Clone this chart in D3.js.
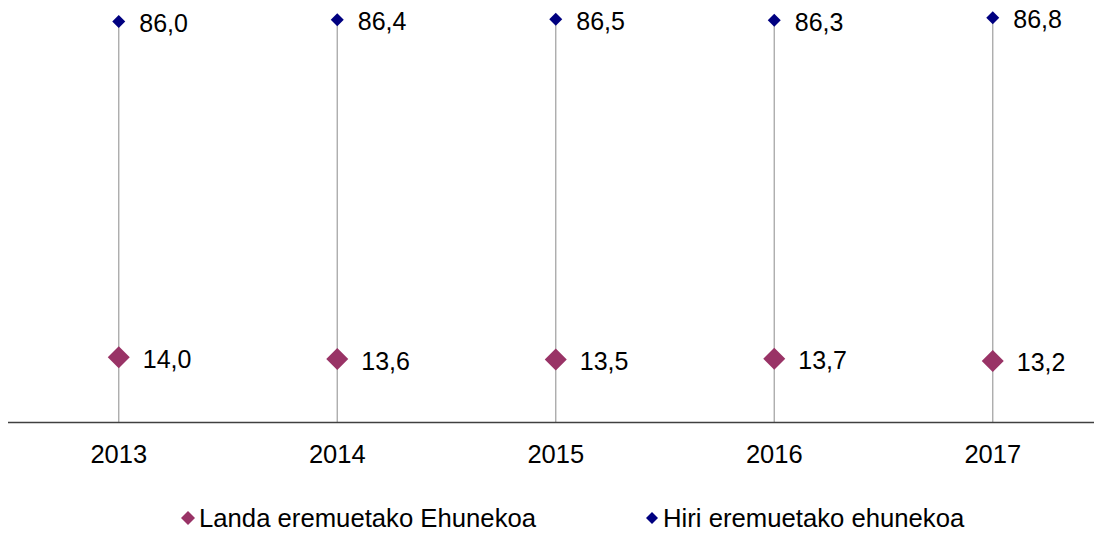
<!DOCTYPE html>
<html>
<head>
<meta charset="utf-8">
<script src="https://cdn.jsdelivr.net/npm/d3@7"></script>
<style>
  html, body { margin: 0; padding: 0; background: #fff; }
  svg { display: block; font-family: "Liberation Sans", Arial, sans-serif; }
</style>
</head>
<body>
<svg id="chart" width="1094" height="533"></svg>
<script>
const YEARS = ["2013", "2014", "2015", "2016", "2017"];
const RURAL = [14.0, 13.6, 13.5, 13.7, 13.2];
const URBAN = [86.0, 86.4, 86.5, 86.3, 86.8];
const SERIES_NAMES = ["Landa eremuetako Ehunekoa", "Hiri eremuetako ehunekoa"];

const RURAL_COLOR = "#993366";
const URBAN_COLOR = "#000080";

const svg = d3.select("#chart");
const width = 1094;

const x = d3.scaleBand().domain(YEARS).range([9.5, 1102]);
const y = d3.scaleLinear().domain([0, 90]).range([422.5, 2.9]);

const fmt = v => d3.format(".1f")(v).replace(".", ",");
const cx = d => x(d) + x.bandwidth() / 2;

// drop lines from the top point to the axis
svg.append("g")
  .selectAll("line")
  .data(YEARS)
  .join("line")
  .attr("x1", cx).attr("x2", cx)
  .attr("y1", (d, i) => y(Math.max(URBAN[i], RURAL[i])))
  .attr("y2", y(0))
  .attr("stroke", "#a6a6a6")
  .attr("stroke-width", 1.3);

// x axis
const xAxis = svg.append("g")
  .attr("transform", `translate(0,${y(0)})`)
  .call(d3.axisBottom(x).tickSize(0));
xAxis.select(".domain").attr("d", `M8,0H${width}`).attr("stroke", "#404040").attr("stroke-width", 1.3);
xAxis.selectAll("text")
  .attr("y", 40.5).attr("dy", null)
  .attr("font-size", 25.5).attr("fill", "#000")
  .attr("font-family", "Liberation Sans, Arial, sans-serif");

const diamond = r => `M0,${-r}L${r},0L0,${r}L${-r},0Z`;

// urban points
const urban = svg.append("g").selectAll("g")
  .data(YEARS.map((d, i) => ({ year: d, v: URBAN[i] })))
  .join("g")
  .attr("transform", d => `translate(${cx(d.year)},${y(d.v)})`);
urban.append("path").attr("d", diamond(6.5)).attr("fill", URBAN_COLOR);
urban.append("text")
  .attr("x", 20.5).attr("y", 10.5)
  .attr("font-size", 25).attr("fill", "#000")
  .text(d => fmt(d.v));

// rural points
const rural = svg.append("g").selectAll("g")
  .data(YEARS.map((d, i) => ({ year: d, v: RURAL[i] })))
  .join("g")
  .attr("transform", d => `translate(${cx(d.year)},${y(d.v)})`);
rural.append("path").attr("d", diamond(11)).attr("fill", RURAL_COLOR);
rural.append("text")
  .attr("x", 24).attr("y", 10.5)
  .attr("font-size", 25).attr("fill", "#000")
  .text(d => fmt(d.v));

// legend
const legendItems = [
  { name: SERIES_NAMES[0], color: RURAL_COLOR, x: 188, r: 7 },
  { name: SERIES_NAMES[1], color: URBAN_COLOR, x: 652, r: 6 }
];
const legend = svg.append("g").selectAll("g")
  .data(legendItems)
  .join("g")
  .attr("transform", d => `translate(${d.x},518)`);
legend.append("path").attr("d", d => diamond(d.r)).attr("fill", d => d.color);
legend.append("text")
  .attr("x", 11).attr("y", 9)
  .attr("font-size", 25.7).attr("fill", "#000")
  .text(d => d.name);
</script>
</body>
</html>
